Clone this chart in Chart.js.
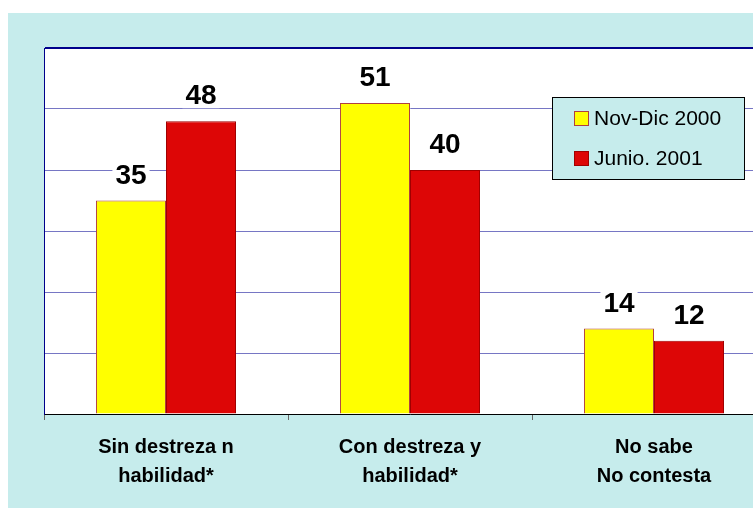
<!DOCTYPE html>
<html>
<head>
<meta charset="utf-8">
<script src="https://cdn.jsdelivr.net/npm/chart.js@4/dist/chart.umd.min.js"></script>
<style>
  html, body { margin: 0; padding: 0; background: #ffffff; overflow: hidden; }
  #wrap { position: relative; width: 790px; height: 511px; }
</style>
</head>
<body>
<div id="wrap"><canvas id="chart" width="790" height="511"></canvas></div>
<script>
// Data
const categories = [
  ['Sin destreza n', 'habilidad*'],
  ['Con destreza y', 'habilidad*'],
  ['No sabe', 'No contesta']
];
const seriesNames = ['Nov-Dic 2000', 'Junio. 2001'];
const novDic2000 = [35, 51, 14];
const junio2001 = [48, 40, 12];
const yTicks = [0, 10, 20, 30, 40, 50, 60];

// Cyan panel behind the plot
const panelBg = {
  id: 'panelBg',
  beforeDraw(chart) {
    const ctx = chart.ctx;
    ctx.save();
    ctx.fillStyle = '#c6ecec';
    ctx.fillRect(8, 13, chart.width - 8, 495);
    const a = chart.chartArea;
    ctx.fillStyle = '#ffffff';
    ctx.fillRect(a.left, a.top, a.right - a.left, a.bottom - a.top);
    ctx.restore();
  }
};

// Value labels above each bar, on a white patch that hides the gridline
const valueLabels = {
  id: 'valueLabels',
  afterDatasetsDraw(chart) {
    const ctx = chart.ctx;
    ctx.save();
    ctx.font = 'bold 28px Arial, "Liberation Sans", sans-serif';
    ctx.textAlign = 'center';
    ctx.textBaseline = 'alphabetic';
    chart.data.datasets.forEach((ds, i) => {
      chart.getDatasetMeta(i).data.forEach((bar, j) => {
        const txt = String(ds.data[j]);
        const w = ctx.measureText(txt).width;
        const base = bar.y - 17;
        ctx.fillStyle = '#ffffff';
        ctx.fillRect(bar.x - w / 2 - 3, base - 24, w + 6, 28);
        ctx.fillStyle = '#000000';
        ctx.fillText(txt, bar.x, base);
      });
    });
    ctx.restore();
  }
};

// Legend box inside the plot, top right
const boxLegend = {
  id: 'boxLegend',
  afterDraw(chart) {
    const ctx = chart.ctx;
    const x = 552, y = 97, w = 192, h = 82;
    ctx.save();
    ctx.fillStyle = '#c6ecec';
    ctx.fillRect(x, y, w, h);
    ctx.strokeStyle = '#000000';
    ctx.lineWidth = 1;
    ctx.strokeRect(x + 0.5, y + 0.5, w, h);
    ctx.font = '21px Arial, "Liberation Sans", sans-serif';
    ctx.textBaseline = 'middle';
    ctx.textAlign = 'left';
    chart.data.datasets.forEach((ds, i) => {
      const cy = y + 21 + i * 40;
      ctx.fillStyle = ds.backgroundColor;
      ctx.fillRect(574, cy - 7, 15, 15);
      ctx.strokeStyle = ds.borderColor;
      ctx.strokeRect(574.5, cy - 6.5, 14, 14);
      ctx.fillStyle = '#000000';
      ctx.fillText(ds.label, 594, cy + 1);
    });
    ctx.restore();
  }
};

new Chart(document.getElementById('chart'), {
  type: 'bar',
  data: {
    labels: categories,
    datasets: [{
      label: seriesNames[0],
      data: novDic2000,
      backgroundColor: '#ffff00',
      borderColor: '#b04040',
      borderWidth: 1
    }, {
      label: seriesNames[1],
      data: junio2001,
      backgroundColor: '#dd0606',
      borderColor: '#a00000',
      borderWidth: 1
    }]
  },
  options: {
    responsive: false,
    animation: false,
    layout: { padding: { left: 44, top: 48, right: 14, bottom: 0 } },
    datasets: { bar: { barPercentage: 1, categoryPercentage: 0.574 } },
    plugins: {
      legend: { display: false },
      tooltip: { enabled: false }
    },
    scales: {
      x: {
        grid: {
          offset: true,
          drawOnChartArea: false,
          drawTicks: true,
          tickLength: 6,
          color: '#666666'
        },
        border: { color: '#000000', width: 1 },
        ticks: {
          color: '#000000',
          padding: 13,
          font: { family: 'Arial, "Liberation Sans", sans-serif', size: 20, weight: 'bold', lineHeight: 1.45 }
        },
        afterFit(scale) { scale.height = 97; }
      },
      y: {
        min: yTicks[0],
        max: yTicks[yTicks.length - 1],
        afterBuildTicks(scale) { scale.ticks = yTicks.map(v => ({ value: v })); },
        grid: {
          drawTicks: false,
          color: ctx => ctx.tick && ctx.tick.value === 60 ? '#00008b' : '#7676c4',
          lineWidth: ctx => ctx.tick && ctx.tick.value === 60 ? 2 : 1
        },
        border: { color: '#00008b', width: 1 },
        ticks: { display: false },
        afterFit(scale) { scale.width = 0; }
      }
    }
  },
  plugins: [panelBg, valueLabels, boxLegend]
});
</script>
</body>
</html>
